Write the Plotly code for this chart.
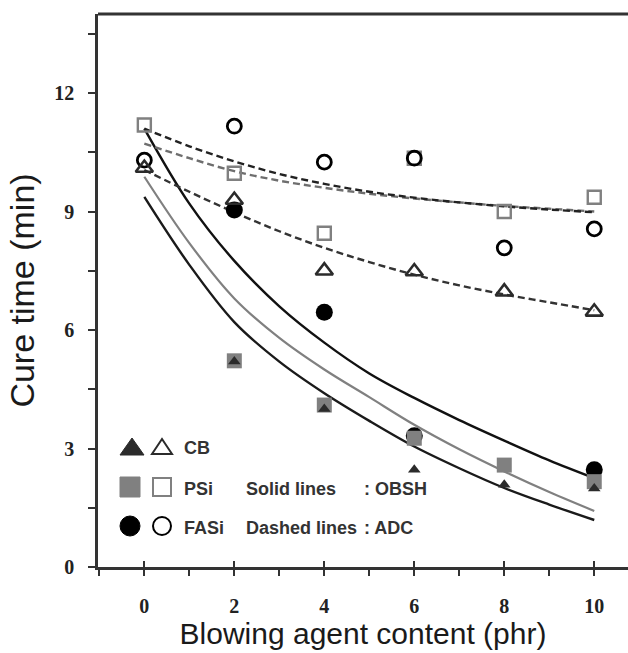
import plotly.graph_objects as go

# ---------------- data ----------------
content_phr = [0, 2, 4, 6, 8, 10]

# ADC (open symbols)
cb_adc = [10.1, 9.29, 7.5, 7.48, 6.97, 6.46]
psi_adc = [11.19, 9.97, 8.45, 10.35, 9.0, 9.36]
fasi_adc = [10.3, 11.16, 10.25, 10.35, 8.08, 8.56]

# OBSH (filled symbols)
cb_obsh = [None, 5.2, 4.0, 2.46, 2.08, 1.99]
psi_obsh = [None, 5.22, 4.1, 3.26, 2.58, 2.16]
fasi_obsh = [None, 9.04, 6.45, 3.32, None, 2.46]

# fitted trend curves, values at x = 0..10
curve_x = [0, 1, 2, 3, 4, 5, 6, 7, 8, 9, 10]
fasi_obsh_fit = [11.1, 9.2, 7.75, 6.6, 5.68, 4.9, 4.28, 3.72, 3.2, 2.7, 2.25]
psi_obsh_fit = [9.88, 8.2, 6.8, 5.8, 5.0, 4.3, 3.6, 2.98, 2.42, 1.9, 1.42]
cb_obsh_fit = [9.37, 7.65, 6.2, 5.2, 4.4, 3.7, 3.05, 2.5, 2.0, 1.58, 1.19]
psi_adc_fit = [11.1, 10.65, 10.27, 9.95, 9.7, 9.5, 9.35, 9.23, 9.13, 9.05, 8.98]
fasi_adc_fit = [10.72, 10.35, 10.02, 9.78, 9.6, 9.45, 9.33, 9.23, 9.14, 9.07, 9.0]
cb_adc_fit = [10.05, 9.5, 8.98, 8.5, 8.08, 7.72, 7.4, 7.13, 6.9, 6.7, 6.5]

x_ticks = [0, 2, 4, 6, 8, 10]
y_ticks = [0, 3, 6, 9, 12]

# ---------------- styles ----------------
DARK = "#2b2b2b"
GREY = "#808080"
BLACK = "#000000"

fig = go.Figure()

def curve(y, color, width, dash=None):
    fig.add_trace(go.Scatter(x=curve_x, y=y, mode="lines",
                             line=dict(color=color, width=width, dash=dash, shape="spline", smoothing=1.0),
                             hoverinfo="skip", showlegend=False))

DASH = "7px,4px"
curve(cb_obsh_fit, "#1a1a1a", 2.4)
curve(psi_obsh_fit, "#808080", 2.2)
curve(fasi_obsh_fit, "#111111", 2.4)
curve(fasi_adc_fit, "#6e6e6e", 2.4, DASH)
curve(psi_adc_fit, "#222222", 2.4, DASH)
curve(cb_adc_fit, "#333333", 2.4, DASH)

def pts(y, symbol, size, color, line_color=None, line_width=0):
    fig.add_trace(go.Scatter(x=content_phr, y=y, mode="markers",
                             marker=dict(symbol=symbol, size=size, color=color,
                                         line=dict(color=line_color or color, width=line_width)),
                             showlegend=False))

# filled (OBSH)
pts(fasi_obsh, "circle", 17, BLACK)
pts(psi_obsh, "square", 15, GREY)
pts(cb_obsh, "triangle-up", 11, DARK)
# open (ADC)
pts(psi_adc, "square-open", 13, GREY, GREY, 2.4)
pts(fasi_adc, "circle-open", 14, BLACK, BLACK, 2.8)
pts(cb_adc, "triangle-up-open", 15, DARK, DARK, 2.6)

# ---------------- legend drawn as shapes + text ----------------
L, R, T, B = 98, 628, 14, 567
W, H = R - L, B - T
def px(x): return (x - L) / W
def py(y): return (B - y) / H

shapes = []
def sh(kind, cx, cy, x0, x1, y0, y1, fill, line_color, lw, path=None):
    d = dict(type=kind, xref="paper", yref="paper", xsizemode="pixel", ysizemode="pixel",
             xanchor=px(cx), yanchor=py(cy), fillcolor=fill,
             line=dict(color=line_color, width=lw), layer="above")
    if path:
        d["path"] = path
    else:
        d.update(x0=x0, x1=x1, y0=y0, y1=y1)
    shapes.append(d)

tri = "M -12,-8 L 12,-8 L 0,9 Z"
tri_o = "M -10,-7 L 10,-7 L 0,8 Z"
sh("path", 132, 447, 0, 0, 0, 0, DARK, DARK, 1, tri)
sh("path", 162, 447, 0, 0, 0, 0, "rgba(0,0,0,0)", DARK, 2, tri_o)
sh("rect", 130, 487, -10, 10, -10, 10, GREY, GREY, 1)
sh("rect", 162, 487, -9, 9, -9, 9, "rgba(0,0,0,0)", GREY, 2)
sh("circle", 130, 526, -10, 10, -10, 10, BLACK, BLACK, 1)
sh("circle", 162, 526, -9, 9, -9, 9, "rgba(0,0,0,0)", BLACK, 2)
# top frame line
shapes.append(dict(type="line", xref="paper", yref="paper", x0=0, x1=1, y0=1, y1=1,
                   line=dict(color="#333333", width=3)))

TXT = dict(family="Liberation Sans", size=18, color="#333333")
ann = []
def text(t, x, y):
    ann.append(dict(text=f"<b>{t}</b>", x=px(x), y=py(y), xref="paper", yref="paper",
                    xanchor="left", yanchor="middle", showarrow=False, font=TXT))
text("CB", 182, 448)
text("PSi", 182, 489)
text("FASi", 182, 528)
text("Solid lines", 244, 489)
text(": OBSH", 362, 489)
text("Dashed lines", 244, 528)
text(": ADC", 362, 528)

TICKFONT = dict(family="Liberation Serif", size=20, color="#222222")
fig.update_layout(
    width=628, height=653,
    margin=dict(l=L, r=0, t=T, b=653 - B, autoexpand=False),
    paper_bgcolor="white", plot_bgcolor="white",
    shapes=shapes, annotations=ann,
    xaxis=dict(range=[-1.03, 10.75], tickvals=x_ticks, ticktext=[f"<b>{v}</b>" for v in x_ticks],
               ticks="outside", ticklen=6, tickwidth=2, tickcolor="#333333",
               minor=dict(tickvals=[-1, 1, 3, 5, 7, 9], ticks="outside", ticklen=6, tickwidth=2,
                          tickcolor="#333333"),
               showline=True, linecolor="#333333", linewidth=2.5, showgrid=False, zeroline=False,
               tickfont=TICKFONT, ticklabelstandoff=13,
               title=dict(text="Blowing agent content (phr)", standoff=6,
                          font=dict(family="Liberation Sans", size=30, color="#1a1a1a"))),
    xaxis2=dict(overlaying="x", side="bottom", anchor="y", matches="x", range=[-1.03, 10.75],
                tickvals=x_ticks, ticks="inside", ticklen=6, tickwidth=2, tickcolor="#333333",
                showticklabels=False, showgrid=False, zeroline=False, showline=False),
    yaxis=dict(range=[0, 14], tickvals=y_ticks, ticktext=[f"<b>{v}</b>" for v in y_ticks],
               ticks="outside", ticklen=7, tickwidth=2, tickcolor="#333333",
               minor=dict(tickvals=[1.5, 4.5, 7.5, 10.5, 13.5], ticks="outside", ticklen=7,
                          tickwidth=2, tickcolor="#333333"),
               showline=True, linecolor="#333333", linewidth=2.5, showgrid=False, zeroline=False,
               tickfont=TICKFONT, ticklabelstandoff=10,
               title=dict(text="Cure time (min)", standoff=10,
                          font=dict(family="Liberation Sans", size=34, color="#1a1a1a"))),
)
fig.add_trace(go.Scatter(x=[None], y=[None], xaxis="x2", yaxis="y", showlegend=False, hoverinfo="skip"))

# the page's default 8px body margin would shift the figure; remove it
fig.write_html("out.html", config={"displayModeBar": False},
               post_script="document.body.style.margin='0px';")
